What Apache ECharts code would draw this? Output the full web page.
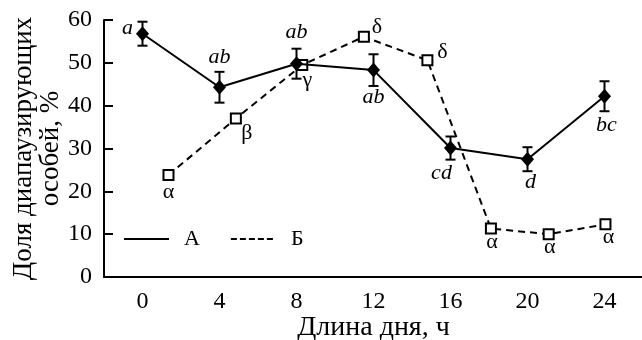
<!DOCTYPE html>
<html>
<head>
<meta charset="utf-8">
<script src="https://cdn.jsdelivr.net/npm/echarts@6/dist/echarts.min.js"></script>
<style>
  html, body { margin: 0; padding: 0; background: #fff; }
</style>
</head>
<body>
<div id="main" style="width: 642px;height:340px;"></div>
<script>
  // day length categories (x axis labels)
  var xLabels = ['0', '4', '8', '12', '16', '20', '24'];

  // series А: day length, share of diapausing individuals, error
  var xA = [0, 4, 8, 12, 16, 20, 24];
  var yA = [56.8, 44.3, 49.8, 48.3, 30.1, 27.5, 42.2];
  var errA = [2.8, 3.6, 3.5, 3.7, 2.7, 2.8, 3.5];
  var lettersA = ['a', 'ab', 'ab', 'ab', 'cd', 'd', 'bc'];

  // series Б
  var xB = [1.35, 4.85, 8.3, 11.5, 14.8, 18.1, 21.1, 24.05];
  var yB = [23.8, 37.0, 49.5, 56.1, 50.6, 11.3, 10.0, 12.3];
  var lettersB = ['α', 'β', 'γ', 'δ', 'δ', 'α', 'α', 'α'];

  var yTicks = [0, 60, 10];

  // label offsets (style only)
  var offA = [[-15, -5], [0, -30], [0, -31], [0, 27], [-9, 25], [3, 23], [2, 29]];
  var offB = [[0, 17], [11, 15], [5, 15], [13, -9], [15, -8], [1, 14], [1, 13], [3, 13]];

  var font = 'Liberation Serif';
  var myChart = echarts.init(document.getElementById('main'));

  var dataA = xA.map(function (x, i) {
    return {
      value: [x, yA[i]],
      label: { show: true, formatter: lettersA[i], position: 'inside', offset: offA[i],
        fontStyle: 'italic', fontFamily: font, fontSize: 22, color: '#000' }
    };
  });
  var dataB = xB.map(function (x, i) {
    return {
      value: [x, yB[i]],
      label: { show: true, formatter: lettersB[i], position: 'inside', offset: offB[i],
        fontFamily: font, fontSize: 22, color: '#000' }
    };
  });
  var errData = xA.map(function (x, i) {
    return [x, yA[i] - errA[i], yA[i] + errA[i]];
  });

  var option = {
    animation: false,
    grid: { left: 104, right: -1, top: 20, bottom: 63, outerBoundsMode: 'none', containLabel: false },
    legend: {
      data: ['А', 'Б'],
      left: 118,
      top: 223,
      itemWidth: 45,
      itemHeight: 14,
      itemGap: 30,
      itemStyle: { opacity: 0 },
      textStyle: { fontFamily: font, fontSize: 22, color: '#000', padding: [0, 0, 0, 10] }
    },
    xAxis: [
      {
        type: 'category',
        data: xLabels,
        name: 'Длина дня, ч',
        nameLocation: 'middle',
        nameGap: 37,
        nameMoveOverlap: false,
        nameTextStyle: { fontFamily: font, fontSize: 28, color: '#000' },
        axisLine: { lineStyle: { color: '#000', width: 2 } },
        axisTick: { inside: true, length: 9, lineStyle: { color: '#000', width: 2 } },
        axisLabel: { fontFamily: font, fontSize: 24, color: '#000', margin: 13 },
        splitLine: { show: false }
      },
      {
        type: 'value',
        min: -2,
        max: 26,
        show: false
      }
    ],
    yAxis: {
      type: 'value',
      min: yTicks[0],
      max: yTicks[1],
      interval: yTicks[2],
      name: 'Доля диапаузирующих\nособей, %',
      nameLocation: 'middle',
      nameGap: 40,
      nameMoveOverlap: false,
      nameTextStyle: { fontFamily: font, fontSize: 27, color: '#000', lineHeight: 27 },
      axisLine: { show: true, onZero: false, lineStyle: { color: '#000', width: 2 } },
      axisTick: { show: true, inside: true, length: 9, lineStyle: { color: '#000', width: 2 } },
      axisLabel: { fontFamily: font, fontSize: 24, color: '#000', margin: 12 },
      splitLine: { show: false }
    },
    series: [
      {
        name: 'Б-data',
        type: 'line',
        xAxisIndex: 1,
        data: dataB,
        symbol: 'rect',
        symbolSize: 10,
        itemStyle: { color: '#fff', borderColor: '#000', borderWidth: 2 },
        lineStyle: { color: '#000', width: 2, type: [7, 5] },
        z: 2
      },
      {
        name: 'err',
        type: 'custom',
        xAxisIndex: 1,
        data: errData,
        renderItem: function (params, api) {
          var lo = api.coord([api.value(0), api.value(1)]);
          var hi = api.coord([api.value(0), api.value(2)]);
          var w = 5;
          var st = { stroke: '#000', lineWidth: 2 };
          return {
            type: 'group',
            children: [
              { type: 'line', shape: { x1: lo[0], y1: lo[1], x2: hi[0], y2: hi[1] }, style: st },
              { type: 'line', shape: { x1: lo[0] - w, y1: lo[1], x2: lo[0] + w, y2: lo[1] }, style: st },
              { type: 'line', shape: { x1: hi[0] - w, y1: hi[1], x2: hi[0] + w, y2: hi[1] }, style: st }
            ]
          };
        },
        z: 3
      },
      {
        name: 'А-data',
        type: 'line',
        xAxisIndex: 1,
        data: dataA,
        symbol: 'diamond',
        symbolSize: [13, 15],
        itemStyle: { color: '#000' },
        lineStyle: { color: '#000', width: 2 },
        z: 4
      },
      {
        name: 'А', type: 'line', xAxisIndex: 1, data: [], symbol: 'none',
        itemStyle: { color: '#000' }, lineStyle: { color: '#000', width: 3 }
      },
      {
        name: 'Б', type: 'line', xAxisIndex: 1, data: [], symbol: 'none',
        itemStyle: { color: '#000' }, lineStyle: { color: '#000', width: 3, type: [6, 3] }
      }
    ]
  };

  myChart.setOption(option);
</script>
</body>
</html>
